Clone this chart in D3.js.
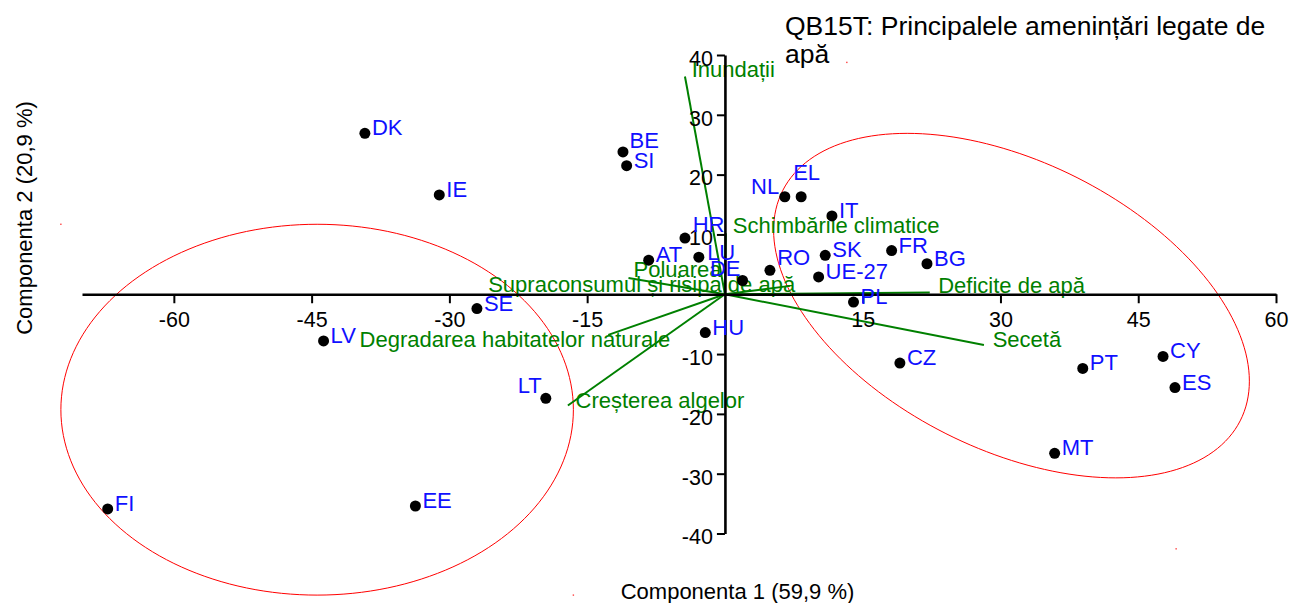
<!DOCTYPE html>
<html>
<head>
<meta charset="utf-8">
<script src="https://cdn.jsdelivr.net/npm/d3@7"></script>
<style>
  html, body { margin: 0; padding: 0; background: #fff; }
  svg { display: block; font-family: "Liberation Sans", Arial, sans-serif; }
</style>
</head>
<body>
<svg id="chart" width="1292" height="603"></svg>
<script>
// ---------------- DATA ----------------
const countries = ["DK","IE","BE","SI","HR","AT","LU","DE","RO","HU","LT","SE","NL","EL","IT","SK","UE-27","FR","BG","PL","CZ","PT","CY","ES","MT","LV","FI","EE"];
const comp1 = [-39.2,-31.1,-11.1,-10.7,-4.35,-8.3,-2.84,1.92,4.9,-2.14,-19.5,-27.0,6.52,8.3,11.65,10.92,10.2,18.15,22.0,14.0,19.05,38.96,47.7,49.0,35.9,-43.7,-67.2,-33.7];
const comp2 = [26.9,16.6,23.8,21.5,9.4,5.7,6.2,2.3,4.0,-6.4,-17.4,-2.4,16.3,16.3,13.1,6.5,2.9,7.3,5.1,-1.3,-11.5,-12.4,-10.4,-15.6,-26.6,-7.8,-35.9,-35.4];

const variables = ["Inundații","Schimbările climatice","Poluarea","Supraconsumul și risipa de apă","Deficite de apă","Secetă","Creșterea algelor","Degradarea habitatelor naturale"];
const varX = [-4.35, 0.1, -10.5, 7.1, 22.3, 28.2, -17.1, -12.7];
const varY = [36.4, 10.2, 2.7, 1.4, 0.3, -8.5, -18.6, -6.8];

// group ellipses: center, spread along each component, correlation
const ellipseCx = [-44.4, 31.2];
const ellipseCy = [-19.3, -1.9];
const ellipseSx = [27.9, 25.9];
const ellipseSy = [31.0, 28.8];
const ellipseR  = [0, -0.4385];

const xTicks = [-60,-45,-30,-15,15,30,45,60];
const yTicks = [40,30,20,10,-10,-20,-30,-40];

const titleLines = ["QB15T: Principalele amenințări legate de", "apă"];
const xTitle = "Componenta 1 (59,9 %)";
const yTitle = "Componenta 2 (20,9 %)";

// ---------------- STYLE / LABEL PLACEMENT ----------------
const countryLabelAdj = {
  "BE": {dx: 6.6, dy: -3.5},
  "HR": {dx: 7.7, dy: -6},
  "DE": {dx: -2, dy: -4.3, anchor: "end"},
  "RO": {dx: 7.3, dy: -5},
  "LT": {dx: -4, dy: -5, anchor: "end"},
  "NL": {dx: -5.6, dy: -3, anchor: "end"},
  "EL": {dx: -8, dy: -16.3},
  "SI": {dx: 7, dy: 2.6},
  "LU": {dx: 8.3, dy: 2.6}
};
const varLabelAdj = {
  "Inundații": {dx: 6.7, dy: 0.3},
  "Schimbările climatice": {dx: 7, dy: 0},
  "Poluarea": {dx: 5, dy: -1.6},
  "Supraconsumul și risipa de apă": {dx: 5, dy: 6.5, anchor: "end"},
  "Deficite de apă": {dx: 8.5, dy: 0.6},
  "Secetă": {dx: 8.7, dy: 1.7},
  "Creșterea algelor": {dx: 7.7, dy: 2.6},
  "Degradarea habitatelor naturale": {dx: 62, dy: 11.7, anchor: "end"}
};

const svg = d3.select("#chart");
const x = d3.scaleLinear().domain([-70, 60]).range([82, 1276]);
const y = d3.scaleLinear().domain([-40, 40]).range([533.5, 55]);

// ---------------- ELLIPSES ----------------
const gEll = svg.append("g");
ellipseCx.forEach((cx, i) => {
  const cy = ellipseCy[i], sx = ellipseSx[i], sy = ellipseSy[i], r = ellipseR[i];
  const pts = d3.range(0, 361, 2).map(a => {
    const t = a * Math.PI / 180;
    return [cx + sx * Math.cos(t), cy + sy * (r * Math.cos(t) + Math.sqrt(1 - r * r) * Math.sin(t))];
  });
  gEll.append("path")
    .attr("d", d3.line().x(d => x(d[0])).y(d => y(d[1])).curve(d3.curveLinearClosed)(pts))
    .attr("fill", "none").attr("stroke", "#ff0000").attr("stroke-width", 1);

  // corners of the principal bounding rectangle (tiny marks)
  const kx = x(1) - x(0), ky = y(0) - y(1);
  const Sxx = (sx * kx) ** 2, Syy = (sy * ky) ** 2, Sxy = -r * sx * kx * sy * ky;
  const tr = Sxx + Syy, det = Sxx * Syy - Sxy * Sxy;
  const disc = Math.sqrt(Math.max(0, tr * tr / 4 - det));
  const l1 = tr / 2 + disc, l2 = tr / 2 - disc;
  let u1 = Math.abs(Sxy) < 1e-9 ? (Sxx >= Syy ? [1, 0] : [0, 1]) : [Sxy, l1 - Sxx];
  const n = Math.hypot(u1[0], u1[1]); u1 = [u1[0] / n, u1[1] / n];
  if (u1[0] < 0) u1 = [-u1[0], -u1[1]];
  const u2 = [-u1[1], u1[0]];
  const a = Math.sqrt(l1), b = Math.sqrt(l2);
  const pcx = x(cx), pcy = y(cy);
  const off = [a * u1[0] + b * u2[0], a * u1[1] + b * u2[1]];
  [[pcx - off[0], pcy - off[1]], [pcx + off[0], pcy + off[1]]].forEach(p => {
    gEll.append("rect").attr("x", p[0] - 0.7).attr("y", p[1] - 0.7)
      .attr("width", 1.4).attr("height", 1.4).attr("fill", "#ff4040");
  });
});

// ---------------- VECTORS ----------------
const gVec = svg.append("g");
variables.forEach((v, i) => {
  gVec.append("line")
    .attr("x1", x(0)).attr("y1", y(0))
    .attr("x2", x(varX[i])).attr("y2", y(varY[i]))
    .attr("stroke", "#008000").attr("stroke-width", 2);
});
variables.forEach((v, i) => {
  const adj = varLabelAdj[v] || {dx: 7, dy: 1};
  gVec.append("text")
    .attr("x", x(varX[i]) + adj.dx).attr("y", y(varY[i]) + adj.dy)
    .attr("text-anchor", adj.anchor || "start")
    .attr("fill", "#008000").attr("font-size", 22)
    .text(v);
});

// ---------------- AXES ----------------
const xAxis = svg.append("g").attr("transform", `translate(0,${y(0)})`)
  .call(d3.axisBottom(x).tickValues(xTicks).tickSize(9).tickSizeOuter(0).tickPadding(8).tickFormat(d3.format("d")));
const yAxis = svg.append("g").attr("transform", `translate(${x(0)},0)`)
  .call(d3.axisLeft(y).tickValues(yTicks).tickSize(8).tickSizeOuter(0).tickPadding(4).tickFormat(d3.format("d")));
[xAxis, yAxis].forEach(g => {
  g.select(".domain").attr("stroke", "#000").attr("stroke-width", 2.6);
  g.selectAll(".tick line").attr("stroke", "#000").attr("stroke-width", 2);
  g.selectAll(".tick text").attr("fill", "#000").attr("font-size", 21.5)
    .attr("font-family", "Liberation Sans, Arial, sans-serif");
});
yAxis.selectAll(".tick text").attr("dy", "0.48em");
// replace unicode minus with hyphen like the reference
svg.selectAll(".tick text").text(function() { return d3.select(this).text().replace("−", "-"); });

// ---------------- POINTS ----------------
const gPts = svg.append("g");
countries.forEach((c, i) => {
  gPts.append("circle").attr("cx", x(comp1[i])).attr("cy", y(comp2[i]))
    .attr("r", 5.5).attr("fill", "#000");
});
countries.forEach((c, i) => {
  const adj = countryLabelAdj[c] || {dx: 7, dy: 2};
  gPts.append("text")
    .attr("x", x(comp1[i]) + adj.dx).attr("y", y(comp2[i]) + adj.dy)
    .attr("text-anchor", adj.anchor || "start")
    .attr("fill", "#1010ff").attr("font-size", 22)
    .text(c);
});

// ---------------- TITLES ----------------
const t = svg.append("text").attr("x", 785).attr("y", 34.7)
  .attr("font-size", 26.5).attr("fill", "#000");
titleLines.forEach((l, i) => {
  t.append("tspan").attr("x", 785).attr("dy", i === 0 ? 0 : 28.6).text(l);
});
svg.append("text").attr("x", 737.5).attr("y", 599).attr("text-anchor", "middle")
  .attr("font-size", 22).attr("fill", "#000").text(xTitle);
svg.append("text").attr("transform", "translate(32,218) rotate(-90)")
  .attr("text-anchor", "middle").attr("font-size", 22).attr("fill", "#000").text(yTitle);
</script>
</body>
</html>
